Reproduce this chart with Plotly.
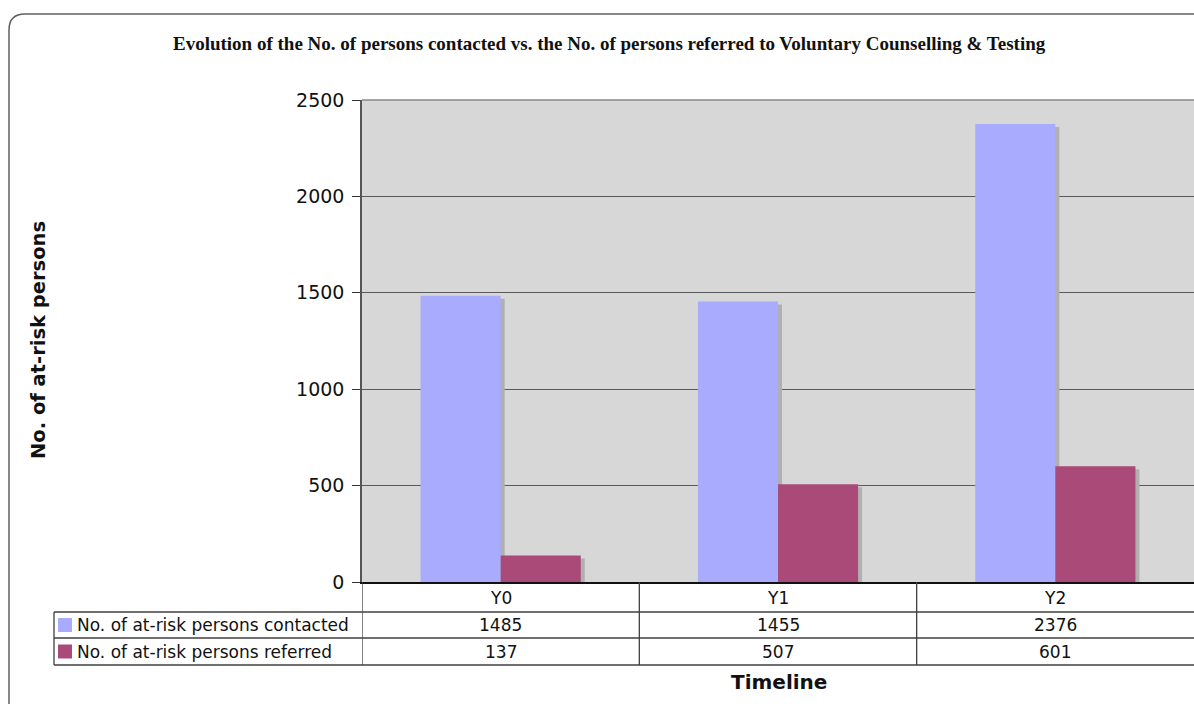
import plotly.graph_objects as go

categories = ["Y0", "Y1", "Y2"]
contacted = [1485, 1455, 2376]
referred = [137, 507, 601]
series_names = ["No. of at-risk persons contacted", "No. of at-risk persons referred"]
colors = ["#A9ABFF", "#A94A78"]

W, H = 1194, 704
L, T, PW, PH = 362, 100, 832, 482

def px(p):
    return (p - L) / PW

def py(p):
    return (T + PH - p) / PH

bar_w = 80 / 277
shift_x = 4 / 277
shift_y = 3 * 2500 / PH
xs = list(range(len(categories)))

fig = go.Figure()

# shadows first
for vals, off in [(contacted, -bar_w), (referred, 0)]:
    fig.add_trace(go.Bar(
        x=xs, y=[v - shift_y for v in vals], width=bar_w, offset=off + shift_x,
        marker=dict(color="#B0B0B0", line=dict(width=0)),
        showlegend=False, hoverinfo="skip"))

for vals, off, name, col in [(contacted, -bar_w, series_names[0], colors[0]),
                             (referred, 0, series_names[1], colors[1])]:
    fig.add_trace(go.Bar(
        x=xs, y=vals, width=bar_w, offset=off, name=name,
        marker=dict(color=col, line=dict(width=0)), showlegend=False))

shapes = []
ann = []

def text(s, x, y, size=17, xanchor="center", xref="paper", **kw):
    ann.append(dict(text=s, xref=xref, yref="paper", x=x, y=y,
                    xanchor=xanchor, yanchor="middle", showarrow=False,
                    font=dict(size=size, color="#111", **kw.pop("font", {})), **kw))

# rounded outer border
r = 16
path = (f"M {px(9)},{py(720)} L {px(9)},{py(14 + r)} "
        f"Q {px(9)},{py(14)} {px(9 + r)},{py(14)} L {px(1210)},{py(14)}")
shapes.append(dict(type="path", xref="paper", yref="paper", path=path,
                   line=dict(color="#606060", width=1.5)))

# table lines
row_y = [582, 612, 638, 665]
for yy in row_y[1:]:
    shapes.append(dict(type="line", xref="paper", yref="paper",
                       x0=px(54), x1=px(1194), y0=py(yy), y1=py(yy),
                       line=dict(color="#404040", width=1.3)))
shapes.append(dict(type="line", xref="paper", yref="paper",
                   x0=px(54), x1=px(54), y0=py(612), y1=py(665),
                   line=dict(color="#404040", width=1.3)))
for b in [-0.5, 0.5, 1.5]:
    shapes.append(dict(type="line", xref="x", yref="paper",
                       x0=b, x1=b, y0=py(582), y1=py(665),
                       line=dict(color="#404040", width=1.3)))

# legend swatches
for i, col in enumerate(colors):
    cy = (row_y[i + 1] + row_y[i + 2]) / 2
    shapes.append(dict(type="rect", xref="paper", yref="paper",
                       x0=px(58), x1=px(72), y0=py(cy - 7), y1=py(cy + 7),
                       fillcolor=col, line=dict(width=0)))
    text(series_names[i], px(75), py(cy), xanchor="left")

# table cells
for j, c in enumerate(categories):
    text(c, j, py(598), xref="x")
    for i, vals in enumerate([contacted, referred]):
        cy = (row_y[i + 1] + row_y[i + 2]) / 2
        text(str(vals[j]), j, py(cy), xref="x")

text("<b>Evolution of the No. of persons contacted vs. the No. of persons referred to Voluntary Counselling &amp; Testing</b>",
     px(609), py(44), size=19, font=dict(family="Liberation Serif"))
text("<b>No. of at-risk persons</b>", px(38), py(340), size=19.5, textangle=-90)
text("<b>Timeline</b>", px(779), py(682), size=20)

fig.update_layout(
    width=W, height=H,
    margin=dict(l=L, r=W - L - PW, t=T, b=H - T - PH, pad=0),
    paper_bgcolor="white", plot_bgcolor="#D7D7D7",
    barmode="overlay",
    font=dict(family="DejaVu Sans", color="#111"),
    shapes=shapes, annotations=ann,
    xaxis=dict(range=[-0.5, 2.5], showticklabels=False, showgrid=False,
               zeroline=False, showline=True, linecolor="#111", linewidth=1.5,
               ticks=""),
    yaxis=dict(range=[0, 2500], tickvals=[0, 500, 1000, 1500, 2000, 2500],
               showgrid=True, gridcolor="#5A5A5A", gridwidth=1.3,
               zeroline=False, showline=True, linecolor="#555", linewidth=1.5,
               ticks="outside", ticklen=8, tickcolor="#333", tickwidth=1,
               tickfont=dict(size=19, color="#111"), ticklabelstandoff=4),
)
fig.add_shape(type="line", xref="paper", yref="paper", x0=0, x1=1, y0=1, y1=1,
              line=dict(color="#888", width=1.5))

fig.write_html("out.html", config={"displayModeBar": False},
               post_script="document.body.style.margin='0';document.body.style.overflow='hidden';")
